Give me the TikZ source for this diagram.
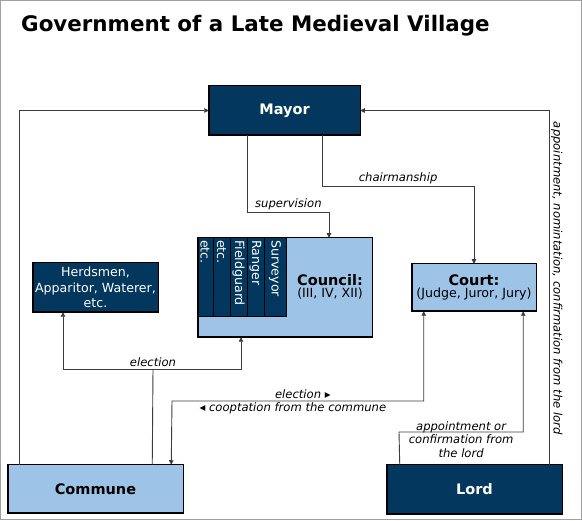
\documentclass[tikz,border=0pt]{standalone}
\usepackage{fontspec}
\setmainfont{DejaVu Sans}
\usetikzlibrary{positioning,arrows.meta}
\definecolor{navy}{RGB}{3,55,93}
\definecolor{pale}{RGB}{157,195,230}
\definecolor{linegray}{RGB}{60,60,60}
\definecolor{framegray}{RGB}{160,160,160}
\newcommand\titlefnt{\fontsize{21.4}{25}\selectfont\bfseries}
\newcommand\headfnt{\fontsize{14.5}{17}\selectfont\bfseries}
\newcommand\subfnt{\fontsize{12.6}{15.5}\selectfont}
\newcommand\lblfnt{\fontsize{11.6}{13.5}\selectfont\itshape}
\tikzset{
  >={Triangle[length=4.5pt,width=4.5pt]},
  darkbox/.style={draw=black,line width=1.5pt,fill=navy,text=white,
    align=center,inner sep=1pt,outer sep=0pt},
  palebox/.style={draw=black,line width=1.5pt,fill=pale,text=black,
    align=center,inner sep=1pt,outer sep=0pt},
  link/.style={draw=linegray,line width=0.9pt},
  ar/.style={link,->},
  dar/.style={link,<->},
  lbl/.style={font=\lblfnt,inner sep=1.5pt,align=center},
  colbox/.style={draw=black,line width=0.8pt,fill=navy},
  coltxt/.style={rotate=-90,anchor=west,text=white,font=\subfnt,inner sep=0pt},
}

\begin{document}
\begin{tikzpicture}[x=1pt,y=-1pt]
  \useasboundingbox (0,0) rectangle (582,521);
  \draw[framegray,line width=1.2pt] (0.6,0.6) rectangle (581.2,519.6);
  \node[anchor=base west,inner sep=0pt,font=\titlefnt] (title) at (21,31.7)
    {Government of a Late Medieval Village};
  % ---- boxes ----
  \node[darkbox,minimum width=151.5pt,minimum height=49.5pt,font=\headfnt]
    (mayor) at (284.5,110.5) {Mayor};
  \node[palebox,minimum width=174.5pt,minimum height=99.5pt]
    (council) at (285,287.5) {};
  \node[darkbox,minimum width=125.5pt,minimum height=49.5pt,font=\subfnt]
    (herds) at (95.5,287.5) {Herdsmen,\\Apparitor, Waterer,\\etc.};
  \node[palebox,minimum width=124.5pt,minimum height=47.5pt]
    (court) at (474,287.5) {{\headfnt Court:}\\{\subfnt (Judge, Juror, Jury)}};
  \node[palebox,minimum width=175.5pt,minimum height=48.5pt,font=\headfnt]
    (commune) at (95.5,489) {Commune};
  \node[darkbox,minimum width=175.5pt,minimum height=49.5pt,font=\headfnt]
    (lord) at (474.5,489.5) {Lord};
  % ---- council offices ----
  \foreach \l/\r/\t [count=\i] in {197/213/etc., 213/230/etc.,
      230/247/Fieldguard, 247/264/Ranger, 264/286/Surveyor}{
    \draw[colbox] (\l,237) rectangle (\r,316);
    \node[coltxt] (office\i) at ({(\l+\r)/2},240) {\t};
  }
  \draw[line width=1.5pt] (council.north west) rectangle (council.south east);
  \node[align=center,inner sep=0pt] (counciltxt) at (330,287)
    {{\headfnt Council:}\\{\subfnt (III, IV, XII)}};
  % ---- connectors ----
  \coordinate (supv) at (329,212);
  \coordinate (chair) at (474,186);
  \coordinate (elec) at (153,369);
  \coordinate (coopt) at (172,401);
  \coordinate (appt) at (399,432);
  \draw[ar] ([xshift=12pt]commune.north west) |- (mayor.west);
  \draw[ar] ([xshift=-13pt]lord.north east) |- node[lbl,pos=0.263,rotate=-90,anchor=south]
    {appointment, nomintation, confirmation from the lord} (mayor.east);
  \draw[ar] ([xshift=39pt]mayor.south west) |- node[lbl,above,pos=0.75] {supervision}
    (supv) -- (supv |- council.north);
  \draw[ar] ([xshift=-38pt]mayor.south east) |- node[lbl,above,pos=0.75] {chairmanship}
    (chair) -- (court.north);
  \draw[link] ([xshift=-31pt]commune.north east) -- (elec) node[lbl,above] {election};
  \draw[ar] (elec) -| ([xshift=-32.5pt]herds.south);
  \draw[ar] (elec) -| ([xshift=-44pt]council.south);
  \draw[dar] ([xshift=-12pt]commune.north east) -- (coopt) -|
    node[lbl,above,pos=0.25,xshift=5pt] {election {\upshape ▸}}
    node[lbl,below,pos=0.25,xshift=-5pt] {{\upshape ◂} cooptation from the commune}
    ([xshift=12pt]court.south west);
  \draw[ar] ([xshift=13pt]lord.north west) -- (appt) -|
    node[lbl,pos=0.25,yshift=-7.5pt] {appointment or\\confirmation from\\the lord}
    ([xshift=-13pt]court.south east);
\end{tikzpicture}
\end{document}
